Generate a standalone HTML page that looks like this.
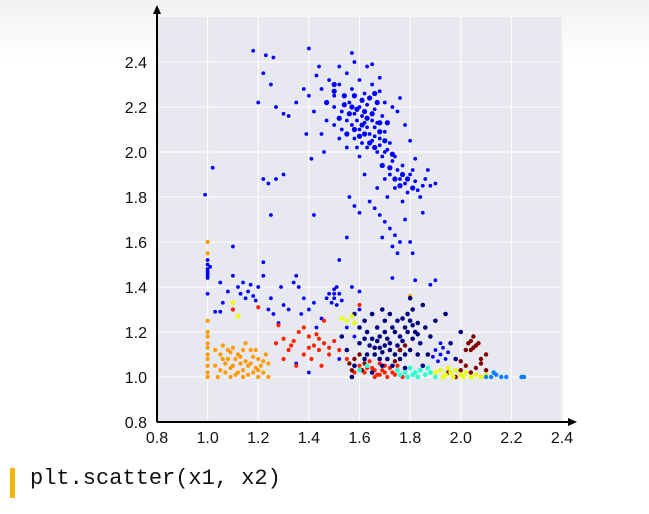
<!DOCTYPE html>
<html><head><meta charset="utf-8"><style>
body{margin:0;width:649px;height:514px;overflow:hidden;background:linear-gradient(#f2f2f4 0px,#fff 60px);font-family:"Liberation Sans",sans-serif;}
#code{position:absolute;left:30px;top:466px;font-family:"Liberation Mono",monospace;font-size:22px;color:#111;}
#bar{position:absolute;left:10px;top:468px;width:5px;height:30px;background:#f7b500;}
</style></head><body>
<svg id="chart" width="649" height="460" style="position:absolute;left:0;top:0"></svg>
<div id="bar"></div>
<div id="code">plt.scatter(x1, x2)</div>
<script>
const xTicks=[0.8,1.0,1.2,1.4,1.6,1.8,2.0,2.2,2.4];
const yTicks=[0.8,1.0,1.2,1.4,1.6,1.8,2.0,2.2,2.4];
const blueTop=[[1.45,2.28],[1.48,2.32],[1.5,2.25],[1.52,2.3],[1.55,2.35],[1.57,2.28],[1.6,2.32],[1.62,2.26],[1.65,2.3],[1.68,2.27],[1.7,2.22],[1.73,2.2],[1.75,2.18],[1.5,2.2],[1.53,2.18],[1.56,2.22],[1.58,2.17],[1.6,2.2],[1.63,2.21],[1.66,2.19],[1.69,2.16],[1.47,2.14],[1.5,2.12],[1.53,2.1],[1.55,2.14],[1.57,2.12],[1.6,2.1],[1.62,2.13],[1.64,2.08],[1.66,2.11],[1.68,2.06],[1.7,2.09],[1.72,2.04],[1.58,2.06],[1.61,2.04],[1.63,2.02],[1.65,2.05],[1.67,2.0],[1.69,1.98],[1.71,2.01],[1.73,1.96],[1.75,1.92],[1.72,1.9],[1.76,1.88],[1.78,1.86],[1.8,1.9],[1.82,1.87],[1.79,1.82],[1.74,1.84],[1.7,1.88],[1.84,1.8],[1.86,1.88],[1.6,1.98],[1.55,2.02],[1.52,2.06],[1.45,2.08],[1.42,2.18],[1.4,2.25],[1.44,2.38],[1.52,2.38],[1.58,2.4],[1.63,2.38],[1.68,2.33],[1.76,2.24],[1.78,2.12],[1.8,2.05],[1.82,1.97],[1.85,1.85],[1.87,1.92],[1.62,1.9],[1.64,1.78],[1.66,1.75],[1.68,1.72],[1.7,1.69],[1.72,1.66],[1.74,1.63],[1.76,1.6],[1.69,1.62],[1.73,1.58],[1.78,1.7],[1.8,1.6],[1.56,1.8],[1.58,1.76],[1.6,1.73],[1.55,1.62],[1.52,1.52],[1.75,1.55],[1.81,1.55],[1.3,2.17],[1.27,2.2],[1.25,2.3],[1.22,2.35],[1.18,2.45],[1.23,2.43],[1.26,2.42],[1.38,2.28],[1.35,2.22],[1.32,2.16],[1.4,2.46],[1.43,2.34],[1.2,2.22],[1.22,1.88],[1.24,1.86],[1.27,1.88],[1.3,1.9],[1.25,1.72],[1.02,1.93],[0.99,1.81],[1.42,1.72],[1.39,2.08],[1.41,1.97],[1.46,2.0],[1.57,2.44],[1.65,2.39],[1.59,2.14],[1.61,2.16],[1.63,2.11],[1.65,2.14],[1.67,2.13],[1.59,2.02],[1.66,2.07],[1.68,2.03],[1.7,2.0],[1.74,1.98],[1.77,1.94],[1.81,1.92],[1.83,1.83],[1.77,1.78],[1.71,1.8],[1.67,1.84],[1.88,1.85],[1.9,1.86],[1.85,1.73]];
const blueCore=[[1.5,2.27],[1.54,2.25],[1.58,2.25],[1.61,2.23],[1.64,2.24],[1.67,2.22],[1.52,2.15],[1.56,2.17],[1.59,2.19],[1.62,2.18],[1.65,2.17],[1.68,2.13],[1.55,2.08],[1.58,2.1],[1.6,2.07],[1.62,2.08],[1.64,2.04],[1.66,2.02],[1.68,2.09],[1.7,2.05],[1.63,2.15],[1.61,2.12],[1.57,2.2],[1.54,2.21],[1.66,2.26],[1.71,2.13],[1.69,1.94],[1.72,1.93],[1.74,1.88],[1.77,1.9],[1.79,1.88],[1.81,1.84],[1.76,1.85],[1.73,1.99],[1.5,2.3],[1.47,2.22]];
const blueLow=[[1.0,1.44],[1.0,1.46],[1.0,1.48],[1.0,1.5],[1.0,1.52],[1.0,1.47],[1.0,1.45],[1.01,1.49],[1.0,1.37],[1.05,1.42],[1.08,1.38],[1.1,1.45],[1.12,1.4],[1.14,1.42],[1.16,1.38],[1.18,1.36],[1.2,1.4],[1.15,1.35],[1.13,1.37],[1.17,1.41],[1.19,1.34],[1.22,1.45],[1.1,1.58],[1.06,1.33],[1.03,1.29],[1.05,1.29],[1.25,1.35],[1.26,1.28],[1.28,1.24],[1.3,1.32],[1.32,1.3],[1.35,1.45],[1.34,1.42],[1.36,1.4],[1.38,1.35],[1.4,1.3],[1.42,1.33],[1.45,1.26],[1.22,1.51],[1.24,1.3],[1.29,1.4],[1.37,1.28],[1.43,1.22],[1.48,1.37],[1.5,1.35],[1.52,1.37],[1.5,1.39],[1.49,1.33],[1.51,1.32],[1.47,1.35],[1.53,1.34],[1.5,1.37],[1.51,1.4],[1.9,1.12],[1.92,1.1],[1.94,1.08],[1.91,1.07],[1.93,1.13],[1.89,1.09],[1.95,1.11],[1.92,1.15],[1.57,1.4],[1.6,1.38],[1.88,1.41],[1.9,1.43],[1.6,1.3],[1.55,1.22],[1.58,1.18],[1.4,1.02],[1.52,1.08],[1.35,1.06],[1.73,1.44],[1.82,1.43]];
const orangePts=[[1.0,1.0],[1.0,1.05],[1.0,1.1],[1.0,1.15],[1.0,1.2],[1.0,1.25],[1.0,1.08],[1.0,1.13],[1.0,1.6],[1.0,1.55],[1.0,1.02],[1.0,1.18],[1.03,1.05],[1.05,1.1],[1.07,1.02],[1.08,1.08],[1.1,1.05],[1.12,1.1],[1.14,1.03],[1.15,1.07],[1.17,1.12],[1.19,1.04],[1.2,1.08],[1.22,1.02],[1.24,1.06],[1.06,1.14],[1.1,1.13],[1.13,1.06],[1.16,1.01],[1.18,1.09],[1.04,1.0],[1.09,1.0],[1.14,1.0],[1.2,1.0],[1.24,1.0],[1.11,1.08],[1.07,1.06],[1.12,1.02],[1.21,1.05],[1.03,1.12],[1.15,1.15],[1.23,1.1],[1.09,1.11],[1.16,1.05],[1.05,1.03],[1.19,1.12],[1.8,1.36],[1.06,1.08],[1.09,1.04],[1.13,1.09],[1.17,1.06],[1.2,1.03],[1.11,1.01],[1.08,1.12],[1.14,1.12],[1.18,1.02],[1.22,1.07]];
const redPts=[[1.27,1.15],[1.3,1.17],[1.32,1.12],[1.34,1.16],[1.36,1.2],[1.38,1.1],[1.4,1.18],[1.42,1.14],[1.44,1.12],[1.46,1.15],[1.48,1.1],[1.5,1.16],[1.41,1.08],[1.45,1.05],[1.35,1.05],[1.3,1.08],[1.28,1.23],[1.38,1.22],[1.43,1.19],[1.48,1.13],[1.52,1.12],[1.55,1.08],[1.6,1.05],[1.62,1.02],[1.65,1.04],[1.67,1.01],[1.69,1.03],[1.71,1.0],[1.73,1.02],[1.75,1.05],[1.68,1.06],[1.64,1.07],[1.7,1.05],[1.66,1.0],[1.72,1.04],[1.58,1.02],[1.77,1.0],[1.6,1.32],[1.63,1.2],[1.46,1.25],[1.4,1.13],[1.44,1.17],[1.33,1.14],[1.1,1.3],[1.2,1.31],[1.66,1.03],[1.68,1.01],[1.7,1.02],[1.63,1.04],[1.74,1.01]];
const navyPts=[[1.6,1.15],[1.63,1.2],[1.66,1.1],[1.68,1.18],[1.7,1.25],[1.72,1.12],[1.74,1.2],[1.76,1.08],[1.78,1.22],[1.8,1.25],[1.82,1.2],[1.84,1.15],[1.79,1.28],[1.81,1.3],[1.77,1.16],[1.73,1.05],[1.69,1.05],[1.65,1.02],[1.62,1.08],[1.58,1.05],[1.64,1.14],[1.67,1.16],[1.71,1.17],[1.75,1.14],[1.69,1.11],[1.71,1.08],[1.86,1.22],[1.88,1.18],[1.9,1.25],[1.87,1.1],[1.85,1.05],[1.83,1.1],[1.8,1.12],[1.78,1.04],[1.72,1.28],[1.67,1.22],[1.62,1.25],[1.55,1.12],[1.6,1.22],[1.96,1.15],[1.98,1.08],[1.94,1.28],[1.7,1.14],[1.66,1.13],[1.74,1.1],[1.68,1.08],[1.76,1.18],[1.78,1.1],[1.63,1.1],[1.81,1.17],[1.83,1.24],[1.75,1.25],[1.65,1.28],[1.58,1.28],[1.8,1.35],[1.85,1.32],[1.69,1.3],[2.0,1.2],[1.53,1.18],[1.57,1.0],[1.79,1.2],[1.81,1.23],[1.77,1.26],[1.83,1.19],[1.7,1.2],[1.72,1.15],[1.68,1.13],[1.65,1.17],[1.73,1.22],[1.76,1.12],[1.62,1.17]];
const maroonPts=[[2.03,1.15],[2.05,1.13],[2.04,1.16],[2.06,1.14],[2.02,1.12],[2.05,1.18],[2.07,1.15],[2.04,1.12],[1.56,1.06],[1.58,1.08],[1.6,1.1],[1.62,1.06],[1.57,1.03],[1.61,1.03],[2.0,1.03],[2.02,1.05],[2.04,1.02],[2.06,1.04],[2.08,1.06],[2.1,1.03],[2.08,1.08],[2.0,1.07],[1.95,1.02],[1.98,1.0],[2.1,1.1],[1.74,1.07],[1.76,1.12],[1.78,1.14]];
const cyanPts=[[1.75,1.03],[1.78,1.02],[1.8,1.04],[1.82,1.02],[1.84,1.03],[1.86,1.01],[1.88,1.02],[1.79,1.0],[1.83,1.0],[1.87,1.04],[1.76,1.01],[1.6,1.03],[1.63,1.05],[1.9,1.0],[1.81,1.01]];
const yellowPts=[[1.9,1.02],[1.92,1.03],[1.94,1.01],[1.96,1.02],[1.98,1.03],[2.0,1.01],[2.02,1.02],[2.04,1.0],[2.06,1.01],[2.08,1.0],[1.93,1.0],[1.97,1.0],[2.01,1.0],[1.55,1.25],[1.57,1.27],[1.53,1.26],[1.58,1.24],[1.1,1.33],[1.12,1.27],[1.95,1.04],[2.1,1.01]];
const lightBluePts=[[2.12,1.0],[2.14,1.01],[2.16,1.0],[2.13,1.02],[2.25,1.0],[2.24,1.0],[2.18,1.0],[2.1,1.0]];

const NS='http://www.w3.org/2000/svg';
const svg=document.getElementById('chart');
const X0=157,X1=562,Y0=422,Y1=62;
const xs=v=>X0+(v-0.8)/1.6*(X1-X0);
const ys=v=>Y0-(v-0.8)/1.6*(Y0-Y1);
function mk(t,a){const e=document.createElementNS(NS,t);for(const k in a)e.setAttribute(k,a[k]);svg.appendChild(e);return e;}
const bg=mk('rect',{x:X0,y:17,width:X1-X0+1,height:Y0-17,fill:'#e8e8f0'});


xTicks.forEach(t=>{if(t>0.8){const g=mk('line',{x1:xs(t),x2:xs(t),y1:17,y2:Y0,stroke:'#fff','stroke-width':1});

}
const l=mk('text',{x:xs(t),y:443,'text-anchor':'middle','font-size':16,fill:'#111'});l.textContent=t.toFixed(1);

});
yTicks.forEach(t=>{if(t>0.8){const g=mk('line',{x1:X0,x2:X1,y1:ys(t),y2:ys(t),stroke:'#fff','stroke-width':1});

}
const l=mk('text',{x:147,y:ys(t)+6,'text-anchor':'end','font-size':16,fill:'#111'});l.textContent=t.toFixed(1);

});
const series=[['blue-top',blueTop,'#0000ff',1.9],['blue-core',blueCore,'#0000ff',2.6],['blue-low',blueLow,'#0000ff',1.9],['orange',orangePts,'#ff9a00',2.1],['red',redPts,'#ff2200',2.1],['navy',navyPts,'#00007f',2.3],['maroon',maroonPts,'#800000',2.2],['cyan',cyanPts,'#30ffd0',2.4],['yellow',yellowPts,'#e8ff10',2.4],['light-blue',lightBluePts,'#0080ff',2.2]];
series.forEach(([n,pts,c,r])=>{pts.forEach(p=>{const d=mk('circle',{cx:xs(p[0]),cy:ys(p[1]),r:r,fill:c});

});});
const ax=mk('path',{d:`M${X0},${Y0}H570M${X0},${Y0}V12`,stroke:'#000','stroke-width':2,fill:'none'});


const ar=mk('path',{d:`M${X0-4},14L${X0},5L${X0+4},14ZM568,${Y0-4}L577,${Y0}L568,${Y0+4}Z`,fill:'#000'});


</script>
</body></html>
